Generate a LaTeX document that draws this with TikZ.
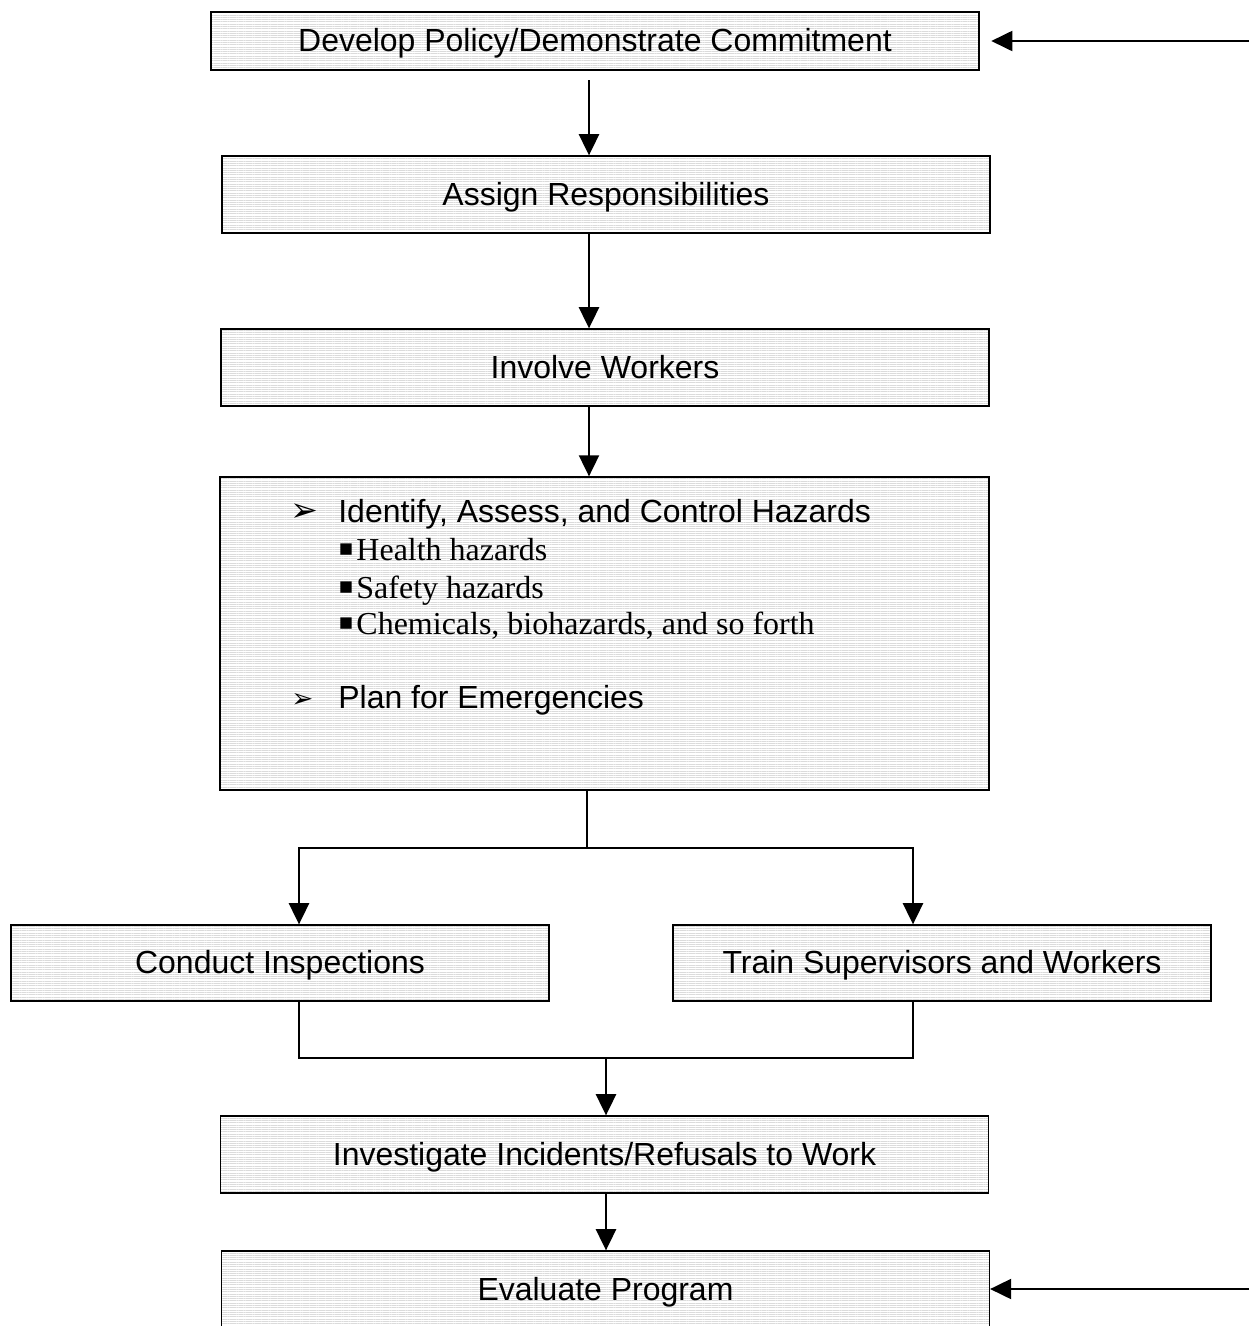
\documentclass[tikz,border=0pt]{standalone}
\usepackage{fontspec}
\setmainfont{Liberation Serif}
\setsansfont{Liberation Sans}
\newfontfamily\dingfont{DejaVu Sans}
\usetikzlibrary{arrows.meta, patterns.meta, calc}

\newcommand{\sqbullet}{\raisebox{2.5pt}{\dingfont\fontsize{13}{13}\selectfont ▪}}

\tikzset{
  stepbox/.style={draw, line width=0.8pt, inner sep=0pt, text depth=0.1em,
    pattern={Lines[angle=0, distance=1.3pt, line width=0.45pt]}, pattern color=gray!28,
    minimum width=15.36cm, minimum height=1.54cm,
    font=\sffamily\fontsize{18.2}{22}\selectfont},
  flow/.style={-{Triangle[length=12pt, width=11.5pt]}, line width=0.9pt},
  link/.style={line width=0.9pt},
  mainitem/.style={anchor=base west, inner sep=0pt, font=\sffamily\fontsize{18.2}{22}\selectfont},
  subitem/.style={anchor=base west, inner sep=0pt, font=\rmfamily\fontsize{18.2}{22}\selectfont},
}

\begin{document}
\begin{tikzpicture}[x=0.02cm, y=-0.02cm]
  \useasboundingbox (0,0) rectangle (1249,1326);

  % main column of steps
  \node[stepbox, minimum height=1.16cm] (dev) at (595,41) {Develop Policy/Demonstrate Commitment};
  \node[stepbox] (assign) at (606,194.5) {Assign Responsibilities};
  \node[stepbox] (involve) at (605,367.5) {Involve Workers};
  \node[stepbox, minimum width=15.38cm, minimum height=6.26cm] (hazards) at (604.5,633.5) {};

  % contents of the hazards box
  \node[mainitem, font=\dingfont\fontsize{19}{20}\selectfont] (bulletA) at (290,521) {➢};
  \node[mainitem] (identify) at (338,522) {Identify, Assess, and Control Hazards};
  \node[subitem] (health) at (338,560) {\sqbullet\hspace{1.5pt}Health hazards};
  \node[subitem] (safety) at (338,598) {\sqbullet\hspace{1.5pt}Safety hazards};
  \node[subitem] (chem) at (338,634) {\sqbullet\hspace{1.5pt}Chemicals, biohazards, and so forth};
  \node[mainitem, font=\dingfont\fontsize{15}{16}\selectfont] (bulletB) at (291,707) {➢};
  \node[mainitem] (plan) at (338,708) {Plan for Emergencies};

  % the two branches
  \node[stepbox, minimum width=10.76cm, minimum height=1.52cm] (conduct) at (280,963) {Conduct Inspections};
  \node[stepbox, minimum width=10.76cm, minimum height=1.52cm] (train) at (942,963) {Train Supervisors and Workers};

  \node[stepbox] (invest) at (604.5,1154.5) {Investigate Incidents/Refusals to Work};
  \node[stepbox] (eval) at (605.5,1289.5) {Evaluate Program};

  % connectors
  \coordinate (spine) at (589,0);
  \coordinate (split) at (587,848);
  \coordinate (leftx) at (299,0);
  \coordinate (rightx) at (913,0);
  \coordinate (merge) at (606,1058);
  \coordinate (feedA) at (1249,41);
  \coordinate (feedB) at (1249,1289);

  \draw[flow] ($(dev.south -| spine)+(0,10)$) -- (assign.north -| spine);
  \draw[flow] (assign.south -| spine) -- (involve.north -| spine);
  \draw[flow] (involve.south -| spine) -- (hazards.north -| spine);
  \draw[link] (hazards.south -| split) -- (split);
  \draw[flow] (split) -| (conduct.north -| leftx);
  \draw[flow] (split) -| (train.north -| rightx);
  \draw[link] (conduct.south -| leftx) |- (merge) -| (train.south -| rightx);
  \draw[flow] (merge) -- (invest.north -| merge);
  \draw[flow] (invest.south -| merge) -- (eval.north -| merge);

  % feedback from the right edge
  \draw[flow] (feedA) -- ($(dev.east |- feedA)+(12,0)$);
  \draw[flow] (feedB) -- (eval.east |- feedB);
\end{tikzpicture}
\end{document}
